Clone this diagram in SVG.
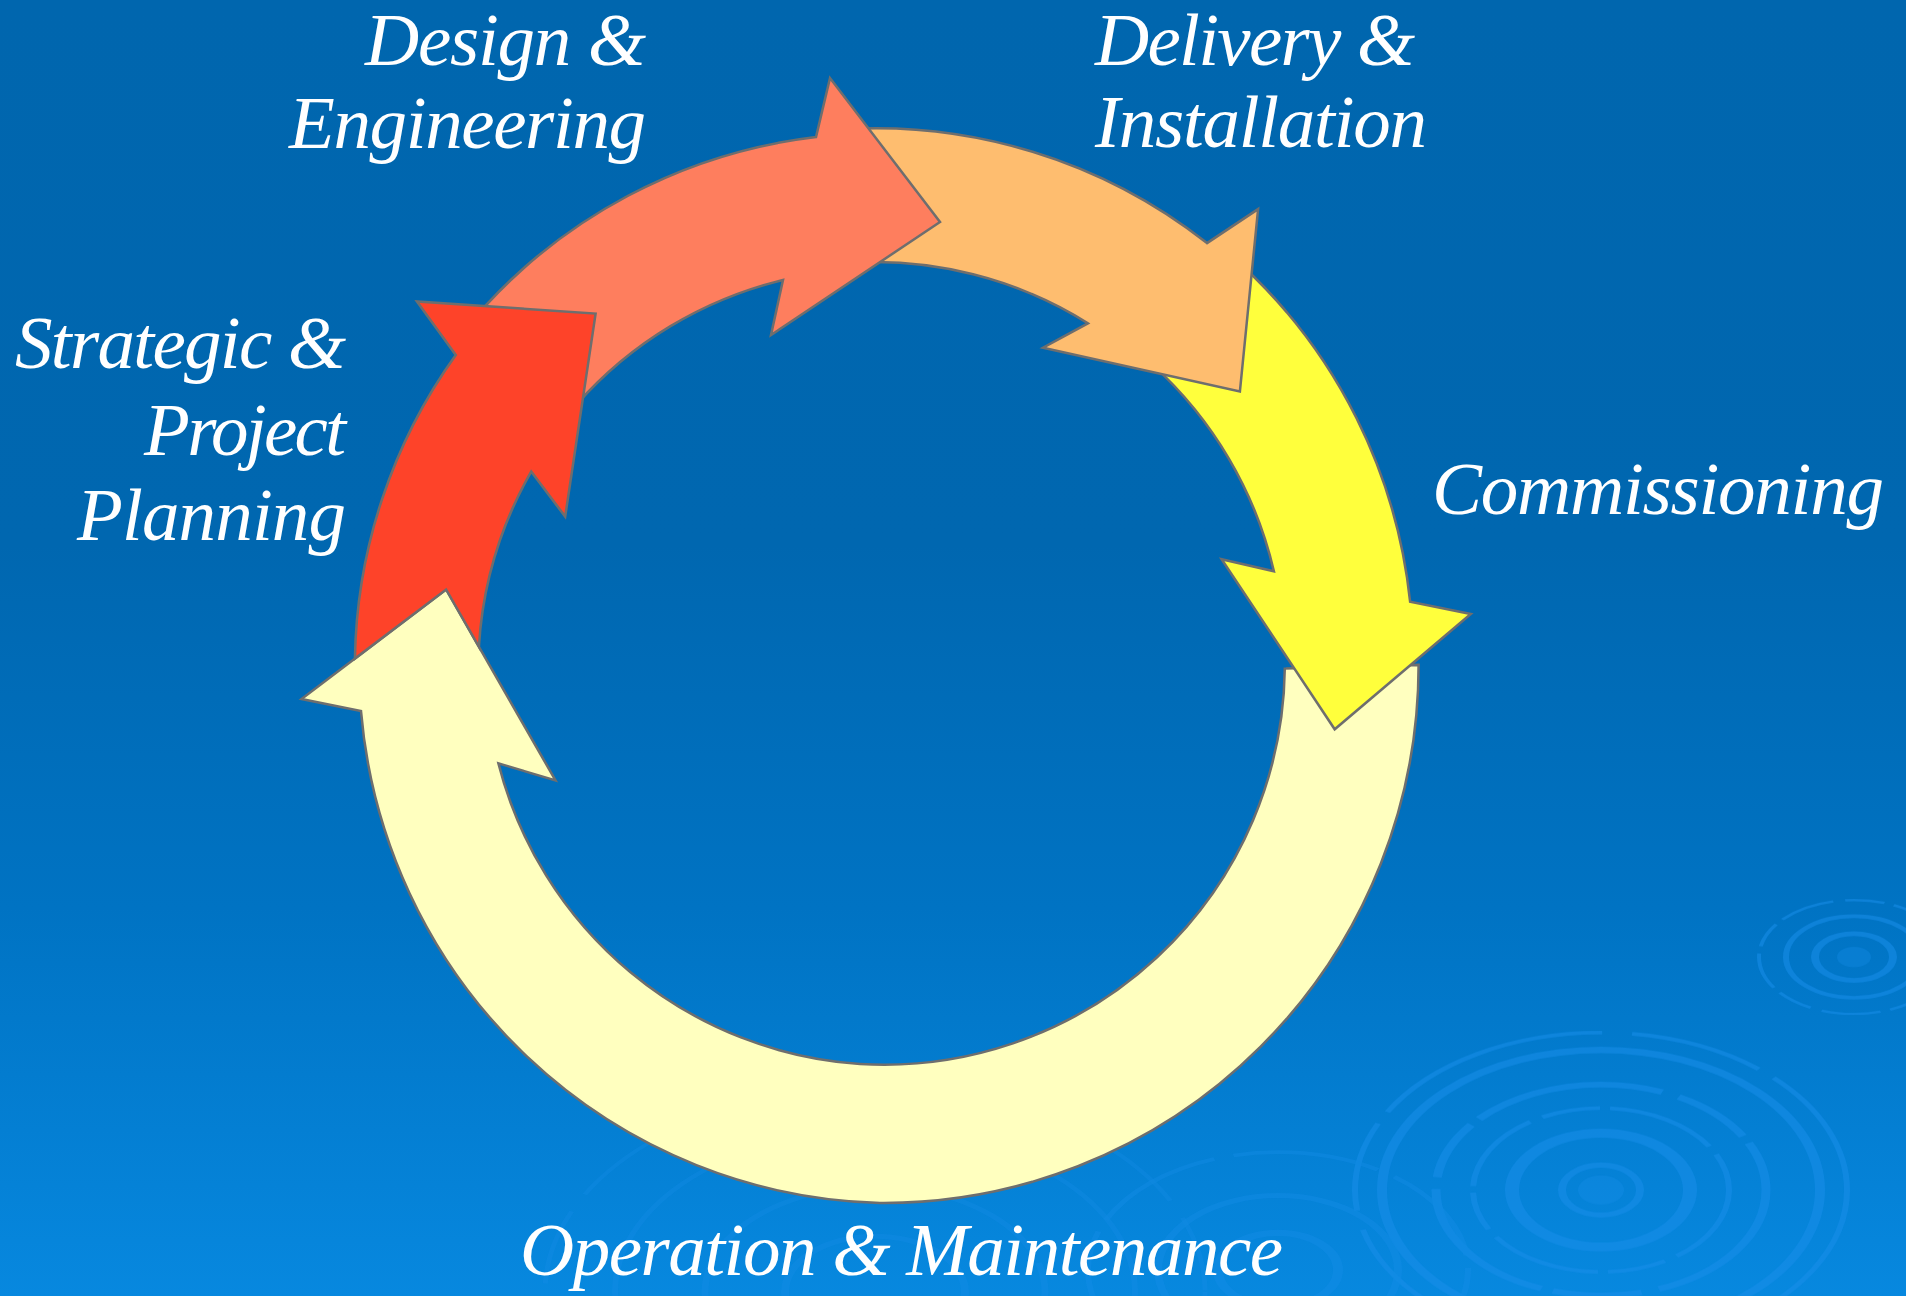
<svg xmlns="http://www.w3.org/2000/svg" width="1906" height="1296" viewBox="0 0 1906 1296">
  <defs>
    <linearGradient id="bg" x1="0" y1="0" x2="0" y2="1">
      <stop offset="0" stop-color="#0066AE"/>
      <stop offset="0.42" stop-color="#0067B0"/>
      <stop offset="0.7" stop-color="#0073C3"/>
      <stop offset="1" stop-color="#0788DF"/>
    </linearGradient>
    <style>
      .arrow { stroke: #6E6E6E; stroke-width: 2.5; stroke-linejoin: miter; }
      .label { fill: #FFFFFF; font-family: "Liberation Serif", "Times New Roman", serif; font-style: italic; font-size: 75px; }
      .ring { fill: none; stroke: #1A8FEA; }
    </style>
  </defs>

  <!-- backdrop -->
  <rect x="0" y="0" width="1906" height="1296" fill="url(#bg)"/>

  <!-- water ripples -->
  <g id="ripples" opacity="0.55">
    <g transform="translate(1601 1190) scale(1 0.64)">
      <circle r="23" fill="#1A8FEA" opacity="0.6"/>
      <circle class="ring" r="39" stroke-width="8"/>
      <circle class="ring" r="89" stroke-width="14"/>
      <circle class="ring" r="128" stroke-width="6" stroke-dasharray="120 14 60 10"/>
      <circle class="ring" r="165" stroke-width="9" stroke-dasharray="200 18 90 12"/>
      <circle class="ring" r="219" stroke-width="10"/>
      <circle class="ring" r="246" stroke-width="6" stroke-dasharray="260 30 140 20"/>
    </g>
    <g transform="translate(1854 957) scale(1 0.6)">
      <circle r="17" fill="#1A8FEA" opacity="0.6"/>
      <circle class="ring" r="39" stroke-width="8"/>
      <circle class="ring" r="68" stroke-width="6"/>
      <circle class="ring" r="95" stroke-width="4" stroke-dasharray="60 12 40 10"/>
    </g>
    <g transform="translate(1278 1270) scale(1 0.62)" opacity="0.6">
      <circle class="ring" r="60" stroke-width="10"/>
      <circle class="ring" r="120" stroke-width="8"/>
      <circle class="ring" r="190" stroke-width="6" stroke-dasharray="150 20"/>
    </g>
    <g transform="translate(875 1292) scale(1 0.62)" opacity="0.5">
      <circle class="ring" r="90" stroke-width="8"/>
      <circle class="ring" r="170" stroke-width="7" stroke-dasharray="180 24"/>
      <circle class="ring" r="260" stroke-width="6"/>
      <circle class="ring" r="330" stroke-width="5" stroke-dasharray="120 30"/>
    </g>
  </g>

  <!-- cycle stages, drawn so each arrowhead sits over the next tail -->
  <g id="stage-operation">
    <path class="arrow" fill="#FFFFBF"
      d="M1418.6 664.9 A535 538 0 0 1 880 1203 A535 538 0 0 1 361 711.1
         L301.5 699 L446.1 589.5 L555.5 780.4 L498.4 763.4
         A401 401 0 0 0 860 1064 A401 401 0 0 0 1284.8 668.6 Z"/>
    <text class="label" x="520" y="1275" textLength="763">Operation &amp; Maintenance</text>
  </g>

  <g id="stage-commissioning">
    <path class="arrow" fill="#FFFF3C"
      d="M1241.6 265 A535 535 0 0 1 1410.1 601.7 L1470.8 613.9 L1334.7 729.3 L1221.6 559.2 L1273.9 571.3 A401 401 0 0 0 1152.1 364.4 Z"/>
    <text class="label" x="1432" y="514" textLength="452">Commissioning</text>
  </g>

  <g id="stage-delivery">
    <path class="arrow" fill="#FEBD6F"
      d="M837 129.7 A535 535 0 0 1 1207 243.1 L1258.1 209.1 L1239.9 391.4 L1043 347.7 L1087.9 323.3 A401 401 0 0 0 848.7 262.9 Z"/>
    <text class="label" x="1095" y="65" textLength="320">Delivery &amp;</text>
    <text class="label" x="1095" y="147" textLength="332">Installation</text>
  </g>

  <g id="stage-design">
    <path class="arrow" fill="#FE7E5E"
      d="M474.1 318.5 A535 535 0 0 1 816 137 L830 78 L940 222 L771 335 L783 280 A401 401 0 0 0 576.4 404.7 Z"/>
    <text class="label" x="365" y="65" textLength="281">Design &amp;</text>
    <text class="label" x="289" y="148" textLength="357">Engineering</text>
  </g>

  <g id="stage-strategic">
    <path class="arrow" fill="#FE4329"
      d="M354.9 658.6 A535 535 0 0 1 455.8 354.9 L416.9 301.5 L595.6 313.6 L565.2 516.6 L531.2 471.6 A401 401 0 0 0 478.9 646.7 L446.1 589.5 Z"/>
    <text class="label" x="15" y="368" textLength="331">Strategic &amp;</text>
    <text class="label" x="144" y="455" textLength="202">Project</text>
    <text class="label" x="77" y="540" textLength="269">Planning</text>
  </g>

  <!-- the stages are joined head to tail; no separate connector lines -->
  <g id="connectors"/>
</svg>
